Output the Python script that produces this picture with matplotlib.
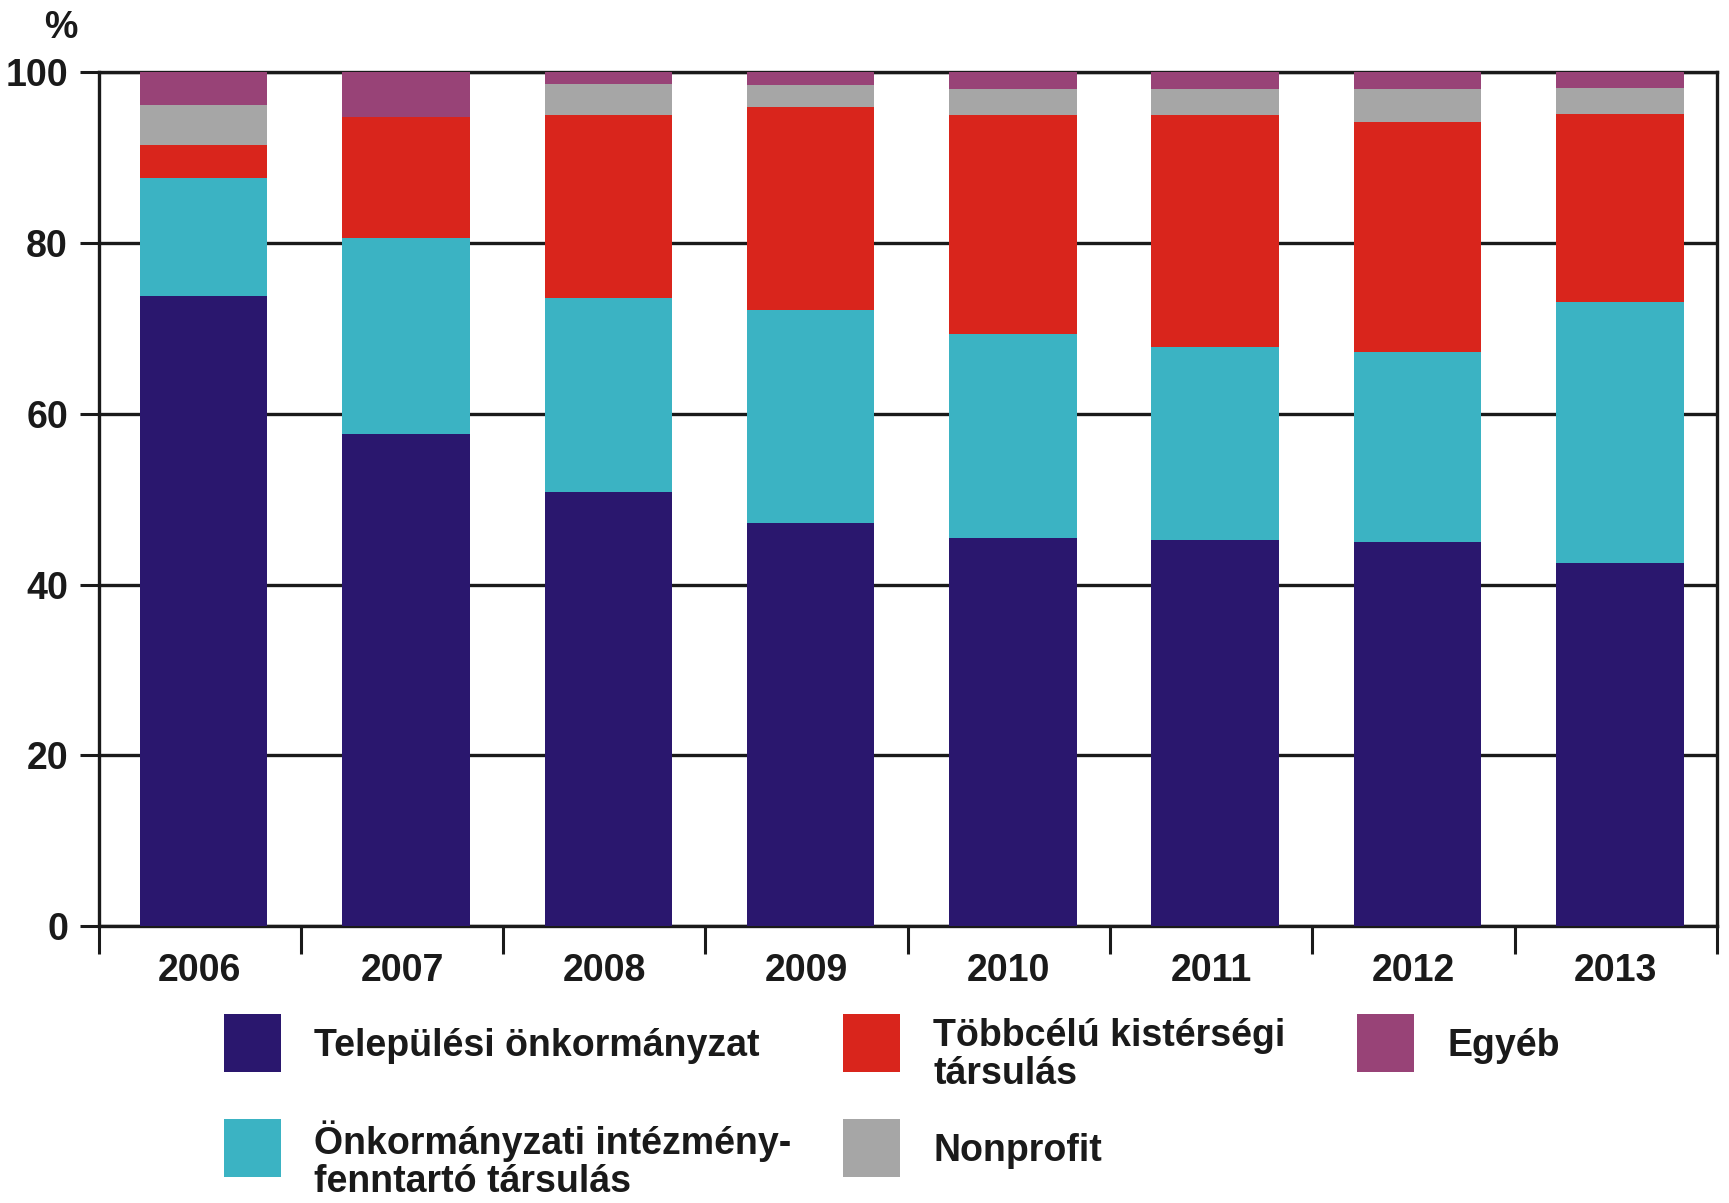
import matplotlib
matplotlib.use("Agg")
import matplotlib.pyplot as plt
from matplotlib.patches import Rectangle
import numpy as np

years = ["2006", "2007", "2008", "2009", "2010", "2011", "2012", "2013"]
telepulesi = [73.8, 57.6, 50.8, 47.2, 45.5, 45.2, 45.0, 42.5]
intezmenyfenntarto = [13.8, 23.0, 22.8, 25.0, 23.8, 22.6, 22.2, 30.6]
tobbcelu = [3.9, 14.2, 21.4, 23.7, 25.7, 27.2, 27.0, 22.0]
nonprofit = [4.6, 0.0, 3.6, 2.6, 3.0, 3.0, 3.8, 3.0]
egyeb = [3.9, 5.2, 1.4, 1.5, 2.0, 2.0, 2.0, 1.9]

labels = ["Települési önkormányzat", "Önkormányzati intézmény-\nfenntartó társulás",
          "Többcélú kistérségi\ntársulás", "Nonprofit", "Egyéb"]
colors = ["#2A176E", "#3BB3C3", "#D9251C", "#A6A6A6", "#984377"]
yticks = [0, 20, 40, 60, 80, 100]

FAM = ["Liberation Sans Narrow", "Liberation Sans", "DejaVu Sans"]
plt.rcParams["font.family"] = FAM
plt.rcParams["font.weight"] = "bold"

fig = plt.figure(figsize=(17.29, 12.03), dpi=100)
ax = fig.add_axes([0.057, 0.230, 0.936, 0.710])

series = [telepulesi, intezmenyfenntarto, tobbcelu, nonprofit, egyeb]
x = np.arange(len(years))
bottom = np.zeros(len(years))
for vals, c in zip(series, colors):
    v = np.array(vals)
    ax.bar(x + 0.02, v, bottom=bottom, width=0.63, color=c, edgecolor="none", zorder=3)
    bottom += v

ax.set_xlim(-0.5, len(years) - 0.5)
ax.set_ylim(0, 100)
ax.set_yticks(yticks)
ax.set_yticklabels([str(t) for t in yticks], fontsize=27, fontweight="bold", color="#1a1a1a")
ax.yaxis.grid(True, color="#1a1a1a", linewidth=2.4, zorder=0)
ax.set_axisbelow(True)
ax.tick_params(axis="y", direction="out", length=14, width=2.2, pad=8, color="#1a1a1a")

ax.set_xticks(x)
ax.set_xticklabels(years, fontsize=27, fontweight="bold", color="#1a1a1a")
ax.set_xticks(np.arange(-0.5, len(years), 1.0), minor=True)
ax.tick_params(axis="x", which="major", length=0, pad=19)
ax.tick_params(axis="x", which="minor", direction="out", length=20, width=2.2, color="#1a1a1a")

for s in ax.spines.values():
    s.set_linewidth(2.4)
    s.set_color("#1a1a1a")

fig.text(61 / 1729, 1 - 28 / 1203, "%", fontsize=27, fontweight="bold",
         ha="center", va="center", color="#1a1a1a")

# legend (manual layout)
W, H = 1729.0, 1203.0
sw_w, sw_h = 57, 58
entries = [
    (0, 224, 1014, 314),
    (1, 224, 1119, 314),
    (2, 843, 1014, 933),
    (3, 843, 1119, 933),
    (4, 1357, 1014, 1447),
]
for idx, sx, sy, tx in entries:
    fig.add_artist(Rectangle((sx / W, 1 - (sy + sw_h) / H), sw_w / W, sw_h / H,
                             transform=fig.transFigure, color=colors[idx], lw=0))
    lab = labels[idx]
    if "\n" in lab:
        fig.text(tx / W, 1 - (sy + sw_h / 2 + 12) / H, lab, fontsize=27, fontweight="bold",
                 ha="left", va="center", color="#1a1a1a", linespacing=1.05)
    else:
        fig.text(tx / W, 1 - (sy + sw_h / 2 + 3) / H, lab, fontsize=27, fontweight="bold",
                 ha="left", va="center", color="#1a1a1a")

fig.savefig("out.png", dpi=100)
